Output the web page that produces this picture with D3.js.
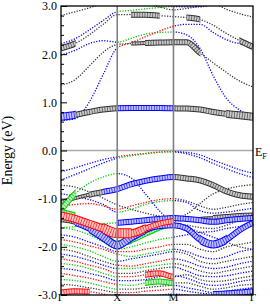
<!DOCTYPE html>
<html>
<head>
<meta charset="UTF-8">
<title>band structure</title>
<script src="https://d3js.org/d3.v7.min.js"></script>
<style>
  body { margin: 0; background: #fff; }
  svg { display: block; }
</style>
</head>
<body>
<svg width="270" height="304"></svg>
<script>
// k-path: Γ - X - M - Γ (node distances along the path)
const kPath = [0, 0.25, 0.5, 0.75, 1, 1.25, 1.5, 1.75, 2, 2.236, 2.471, 2.707, 2.943, 3.178, 3.414];
const kLabels = ["Γ", "X", "M", "Γ"];
const kLabelPos = [0, 1, 2, 3.414];
const energyTicks = [-3, -2, -1, 0, 1, 2, 3];

// band energies (eV) at every k node
const bandE = [
  [2.80, 2.88, 2.96, 3.05, 3.10, 3.08, 3.04, 2.98, 2.92, 2.95, 3.00, 3.05, 2.93, 2.84, 2.77],
  [2.22, 2.32, 2.50, 2.70, 2.88, 2.91, 2.94, 2.97, 2.99, 2.98, 2.98, 3.04, 3.10, 3.12, 3.12],
  [2.12, 2.22, 2.40, 2.62, 2.82, 2.82, 2.82, 2.80, 2.78, 2.76, 2.72, 2.60, 2.43, 2.28, 2.15],
  [1.98, 2.08, 2.22, 2.28, 2.25, 2.33, 2.42, 2.45, 2.46, 2.40, 2.12, 1.55, 1.08, 0.84, 0.70],
  [0.62, 0.66, 1.00, 1.58, 2.13, 2.24, 2.36, 2.48, 2.58, 2.62, 2.62, 2.45, 2.30, 2.22, 2.20],
  [1.36, 1.47, 1.75, 2.04, 2.20, 2.22, 2.23, 2.24, 2.25, 2.25, 2.03, 1.82, 1.62, 1.44, 1.32],
  [0.70, 0.74, 0.80, 0.85, 0.875, 0.88, 0.88, 0.88, 0.875, 0.87, 0.85, 0.80, 0.76, 0.73, 0.70],
  [-0.44, -0.36, -0.27, -0.19, -0.13, -0.09, -0.06, -0.03, -0.02, -0.04, -0.09, -0.20, -0.30, -0.40, -0.47],
  [-0.61, -0.50, -0.38, -0.26, -0.16, -0.11, -0.07, -0.04, -0.03, -0.07, -0.15, -0.27, -0.38, -0.48, -0.56],
  [-1.07, -0.99, -0.92, -0.86, -0.80, -0.70, -0.63, -0.58, -0.55, -0.58, -0.62, -0.72, -0.85, -0.93, -0.96],
  [-1.23, -0.90, -0.68, -0.55, -0.48, -0.57, -0.90, -1.25, -1.50, -1.55, -1.60, -1.62, -1.55, -1.45, -1.40],
  [-0.72, -0.76, -0.86, -0.99, -1.13, -1.22, -1.30, -1.36, -1.40, -1.32, -1.10, -0.90, -0.80, -0.74, -0.71],
  [-1.15, -1.12, -1.10, -1.15, -1.22, -1.15, -1.08, -1.02, -1.00, -1.05, -1.15, -1.22, -1.18, -1.12, -1.08],
  [-0.90, -0.95, -1.02, -1.12, -1.28, -1.22, -1.12, -1.06, -1.04, -1.08, -1.25, -1.30, -1.28, -1.24, -1.20],
  [-1.35, -1.42, -1.52, -1.62, -1.72, -1.72, -1.62, -1.52, -1.47, -1.45, -1.42, -1.40, -1.38, -1.36, -1.35],
  [-1.60, -1.58, -1.55, -1.52, -1.50, -1.48, -1.45, -1.42, -1.40, -1.42, -1.45, -1.48, -1.45, -1.42, -1.40],
  [-1.45, -1.50, -1.62, -1.80, -1.97, -1.80, -1.65, -1.57, -1.55, -1.62, -1.85, -1.95, -1.85, -1.65, -1.50],
  [-1.28, -1.35, -1.50, -1.70, -1.92, -1.88, -1.75, -1.62, -1.55, -1.60, -1.70, -1.80, -1.90, -2.00, -2.05],
  [-1.60, -1.65, -1.75, -1.90, -2.05, -2.00, -1.92, -1.85, -1.80, -1.75, -1.70, -1.68, -1.62, -1.58, -1.55],
  [-1.75, -1.80, -1.90, -2.00, -2.10, -2.10, -2.05, -2.00, -1.95, -1.95, -2.05, -2.10, -2.00, -1.95, -1.90],
  [-1.85, -1.90, -1.98, -2.05, -2.15, -2.20, -2.15, -2.10, -2.05, -2.10, -2.20, -2.25, -2.20, -2.10, -2.05],
  [-1.95, -2.00, -2.08, -2.20, -2.30, -2.25, -2.20, -2.15, -2.10, -2.15, -2.30, -2.35, -2.30, -2.25, -2.20],
  [-2.05, -2.10, -2.20, -2.30, -2.38, -2.40, -2.35, -2.30, -2.25, -2.30, -2.40, -2.45, -2.42, -2.35, -2.30],
  [-2.15, -2.20, -2.28, -2.38, -2.45, -2.45, -2.42, -2.38, -2.35, -2.40, -2.50, -2.55, -2.50, -2.45, -2.40],
  [-2.25, -2.30, -2.38, -2.45, -2.55, -2.55, -2.50, -2.45, -2.42, -2.50, -2.60, -2.62, -2.60, -2.55, -2.50],
  [-2.35, -2.38, -2.45, -2.55, -2.62, -2.62, -2.58, -2.55, -2.62, -2.58, -2.68, -2.72, -2.70, -2.65, -2.60],
  [-2.45, -2.48, -2.55, -2.62, -2.70, -2.70, -2.68, -2.62, -2.60, -2.65, -2.75, -2.80, -2.78, -2.72, -2.68],
  [-2.55, -2.60, -2.65, -2.72, -2.78, -2.80, -2.75, -2.72, -2.75, -2.75, -2.82, -2.88, -2.85, -2.80, -2.78],
  [-2.68, -2.70, -2.75, -2.82, -2.88, -2.88, -2.85, -2.82, -2.80, -2.85, -2.90, -2.95, -2.92, -2.88, -2.85],
  [-2.78, -2.80, -2.85, -2.90, -2.95, -2.95, -2.92, -2.90, -2.88, -2.92, -2.96, -2.98, -2.97, -2.95, -2.92],
  [-2.95, -2.92, -2.93, -2.98, -3.05, -3.08, -3.05, -3.00, -2.98, -3.00, -3.05, -3.05, -3.02, -2.98, -2.96]
];

// orbital colour of each k interval: k black, b blue, g green, r red
const bandColor = [
  "kkkk|kkkk|kkkkkk", "bbbb|gggg|bbbbbb", "kkkk|kkkk|kkkkkk", "bbbb|gggg|bbbbbb",
  "bbbb|rrrr|bbbbbb", "kkkk|kkkk|kkkkkk", "bkkk|bbbb|kkkkkk",
  "bbbb|rrrr|bbbbbb", "bbbb|gggg|bbbbbb", "kkkb|bbbb|kkkkkk", "gggg|bbbb|kkkkkk",
  "kkkk|kkkk|kkkkkk", "rrrr|rrrr|kkkkkk", "bbbb|gggg|bbbbbb", "rrrr|rrrr|kkkkkk",
  "gggg|bbbb|bbbbbb", "kbbb|bbbb|bbbbbb", "gggg|gggg|kkbbkk", "gggg|gggg|bbbbbb",
  "bbbb|rrrr|kkkkkk", "rrrr|gggg|bbbbbb", "gggg|bbbb|kkkkkk", "kkkk|rrrr|bbbbbb",
  "bbbb|gggg|kkkkkk", "rrrr|kkkk|bbbbbb", "gggg|rrrr|kkkkkk", "bbbb|bbbb|bbbbbb",
  "rrrr|gggg|kkkkkk", "gggg|kkkk|bbbbbb", "kkkk|rrrr|bbbbbb", "rrrr|bbbb|bbbbbb"
];

// fat-band circle radius (px) of each k interval, 0 = plain dots
const bandFat = [
  "0000|0000|000000", "0000|0000|000000", "3000|0330|030003", "0000|0000|000000",
  "0000|0000|000000", "0000|0233|330000", "4333|3333|333344",
  "0000|0000|000000", "0000|0000|000000", "2233|3333|333333", "3000|0000|000000",
  "0000|0000|000000", "0000|0000|000000", "0000|0000|000000", "4445|5433|002333",
  "0000|3333|333333", "2344|4433|334433", "3002|3222|000000", "0000|0000|000000",
  "0000|0000|000000", "0000|0000|000000", "0000|0000|000000", "0000|0000|000000",
  "0000|0000|000000", "0000|0000|000000", "0000|0033|000000", "0000|0000|000000",
  "0000|0033|000000", "0000|0000|000000", "0000|0000|000333", "3300|0000|000000"
];

const colorOf = { k: "#333", b: "#0000ff", g: "#00c800", r: "#ff0000" };
const fatOrder = { k: 0, g: 1, b: 2, r: 3 };

const svg = d3.select("svg");
const x = d3.scaleLinear().domain([0, kPath[kPath.length - 1]]).range([61, 253]);
const y = d3.scaleLinear().domain([-3, 3]).range([295, 6]);

const line = d3.line()
  .x(d => x(d[0]))
  .y(d => y(d[1]))
  .curve(d3.curveMonotoneX);

// split every band into runs of equal colour / radius
const runs = [];
bandE.forEach((e, bi) => {
  const cols = bandColor[bi].replace(/\|/g, "");
  const fat = bandFat[bi].replace(/\|/g, "");
  const d = line(kPath.map((k, i) => [k, e[i]]));
  let a = 0;
  for (let i = 1; i <= cols.length; i++) {
    if (i === cols.length || cols[i] !== cols[a] || fat[i] !== fat[a]) {
      runs.push({ d, key: cols[a], c: colorOf[cols[a]], r: +fat[a], a, b: i });
      a = i;
    }
  }
});

const defs = svg.append("defs");
const clips = new Set();
runs.forEach(r => {
  const id = `cl${r.a}_${r.b}`;
  if (clips.has(id)) return;
  clips.add(id);
  defs.append("clipPath").attr("id", id)
    .append("rect")
    .attr("x", x(kPath[r.a]) - (r.a === 0 ? 0 : 0.3))
    .attr("y", y(3))
    .attr("width", x(kPath[r.b]) - x(kPath[r.a]) + 0.6)
    .attr("height", y(-3) - y(3));
});

const g = svg.append("g");

// plain dotted bands
g.selectAll(".thin")
  .data(runs.filter(r => r.r === 0))
  .join("path")
  .attr("class", "thin")
  .attr("d", r => r.d)
  .attr("clip-path", r => `url(#cl${r.a}_${r.b})`)
  .attr("fill", "none")
  .attr("stroke", r => r.c)
  .attr("stroke-width", 1.3)
  .attr("stroke-dasharray", "1.2 1.5");

// fat bands: chain of open circles
const fatRuns = runs.filter(r => r.r > 0)
  .sort((p, q) => fatOrder[p.key] - fatOrder[q.key]);
fatRuns.forEach(r => {
  const clip = `url(#cl${r.a}_${r.b})`;
  g.append("path").attr("d", r.d).attr("clip-path", clip)
    .attr("fill", "none").attr("stroke", r.c)
    .attr("stroke-width", 2 * r.r);
  g.append("path").attr("d", r.d).attr("clip-path", clip)
    .attr("fill", "none").attr("stroke", "#fff")
    .attr("stroke-width", 2 * r.r - 2).attr("stroke-opacity", 0.75);
  g.append("path").attr("d", r.d).attr("clip-path", clip)
    .attr("fill", "none").attr("stroke", r.c)
    .attr("stroke-width", 2 * r.r - 1).attr("stroke-opacity", 0.75)
    .attr("stroke-dasharray", "0.8 1.8");
});

// Fermi level and high-symmetry lines
svg.append("line")
  .attr("x1", x(0)).attr("x2", x(kPath[kPath.length - 1]))
  .attr("y1", y(0)).attr("y2", y(0))
  .attr("stroke", "#aaa").attr("stroke-width", 1.6);

svg.selectAll(".kline")
  .data(kLabelPos.slice(1, 3))
  .join("line")
  .attr("class", "kline")
  .attr("x1", d => x(d)).attr("x2", d => x(d))
  .attr("y1", y(3)).attr("y2", y(-3))
  .attr("stroke", "#808080").attr("stroke-width", 1.6);

// frame
svg.append("rect")
  .attr("x", x(0)).attr("y", y(3))
  .attr("width", x(kPath[kPath.length - 1]) - x(0))
  .attr("height", y(-3) - y(3))
  .attr("fill", "none").attr("stroke", "#000").attr("stroke-width", 1.3);

// y axis, ticks pointing inward
const minorTicks = d3.range(-30, 31, 2).map(v => v / 10).filter(v => Math.abs(v - Math.round(v)) > 1e-6);
svg.append("g")
  .attr("transform", `translate(${x(0)},0)`)
  .call(d3.axisLeft(y).tickValues(minorTicks).tickSize(-3).tickFormat(""))
  .call(a => a.select(".domain").remove());

svg.append("g")
  .attr("transform", `translate(${x(0)},0)`)
  .call(d3.axisLeft(y).tickValues(energyTicks).tickSize(-6).tickPadding(4)
    .tickFormat(v => v.toFixed(1)))
  .call(a => a.select(".domain").remove())
  .call(a => a.selectAll("text")
    .attr("font-family", "'Liberation Serif', 'Times New Roman', serif")
    .attr("font-size", 12).attr("fill", "#000"));

// k labels
svg.selectAll(".klab")
  .data(kLabels)
  .join("text")
  .attr("class", "klab")
  .attr("x", (d, i) => x(kLabelPos[i]))
  .attr("y", 301)
  .attr("text-anchor", "middle")
  .attr("font-family", "'Liberation Serif', 'Times New Roman', serif")
  .attr("font-size", 11)
  .text(d => d);

// E_F label
const ef = svg.append("text")
  .attr("x", 255).attr("y", 156)
  .attr("font-family", "'Liberation Serif', 'Times New Roman', serif")
  .attr("font-size", 12);
ef.append("tspan").text("E");
ef.append("tspan").attr("font-size", 8).attr("dy", 3).text("F");

// axis title
svg.append("text")
  .attr("transform", `translate(12,${y(0)}) rotate(-90)`)
  .attr("text-anchor", "middle")
  .attr("font-family", "'Liberation Serif', 'Times New Roman', serif")
  .attr("font-size", 14)
  .text("Energy (eV)");
</script>
</body>
</html>
